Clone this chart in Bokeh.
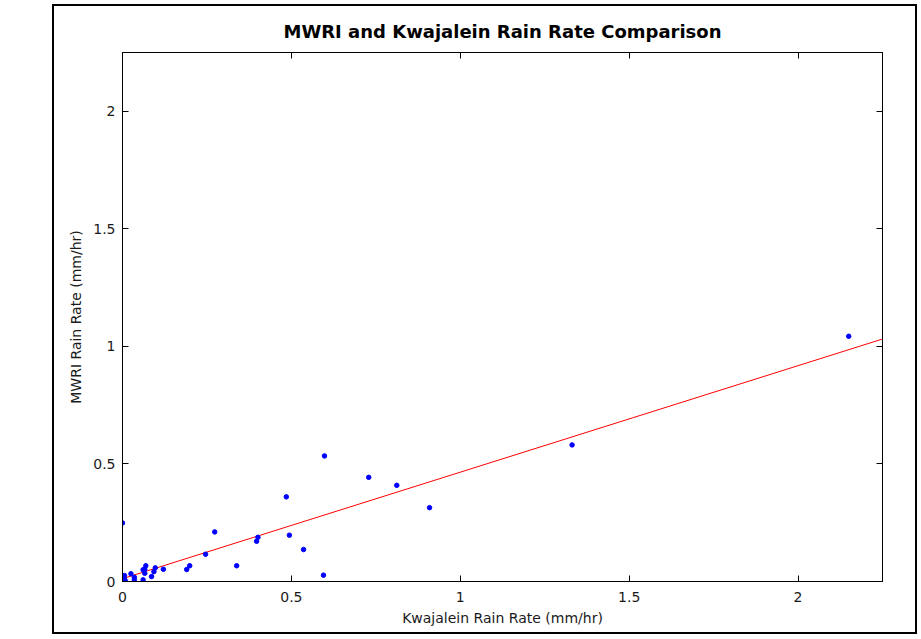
from bokeh.plotting import figure
from bokeh.models import Range1d, LinearAxis, FixedTicker
from bokeh.embed import file_html
from bokeh.resources import INLINE

kwaj = [0.000, 0.598, 0.485, 0.273, 0.494, 0.401, 0.397, 0.536, 0.246, 0.338,
        0.595, 0.199, 0.190, 0.121, 0.097, 0.093, 0.086, 0.069, 0.066, 0.061,
        0.066, 0.061, 0.025, 0.035, 0.035, 0.006, 0.005, 0.000, 0.008, 0.729,
        0.812, 0.909, 1.331, 2.150]
mwri = [0.249, 0.534, 0.360, 0.211, 0.197, 0.188, 0.171, 0.136, 0.116, 0.067,
        0.027, 0.067, 0.051, 0.052, 0.058, 0.042, 0.021, 0.067, 0.052, 0.050,
        0.035, 0.007, 0.033, 0.018, 0.007, 0.025, 0.011, 0.004, 0.004, 0.443,
        0.409, 0.314, 0.581, 1.043]
fit_intercept = 0.012
fit_slope = 0.453
fit_x = [0.0, 2.25]
fit_y = [fit_intercept + fit_slope * v for v in fit_x]
ticks = [0, 0.5, 1, 1.5, 2]
tick_labels = {0: "0", 0.5: "0.5", 1: "1", 1.5: "1.5", 2: "2"}

FONT = "DejaVu Sans"

p = figure(width=865, height=630, output_backend="svg", toolbar_location=None,
           x_range=Range1d(0, 2.25), y_range=Range1d(0, 2.25),
           min_border_left=68, min_border_right=37, min_border_top=46, min_border_bottom=55,
           title="MWRI and Kwajalein Rain Rate Comparison")
p.margin = (4, 0, 0, 52)
p.styles = {"border": "2px solid black"}
p.title.align = "center"
p.title.text_font = FONT
p.title.text_font_size = "18px"
p.title.text_font_style = "bold"
p.title.text_color = "black"
p.title.offset = 0
p.title.standoff = 22
p.grid.visible = False
p.outline_line_color = "black"
p.outline_line_width = 1
p.background_fill_color = "white"
p.border_fill_color = "white"

def style_axis(ax, show_labels=True):
    ax.ticker = FixedTicker(ticks=ticks)
    ax.major_label_overrides = tick_labels
    ax.major_tick_in = 6
    ax.major_tick_out = 0
    ax.minor_tick_line_color = None
    ax.axis_line_color = "black"
    ax.major_tick_line_color = "black"
    ax.major_label_text_font = FONT
    ax.major_label_text_font_size = "14px"
    ax.major_label_text_color = "#1a1a1a" if show_labels else None
    ax.major_label_standoff = 7
    ax.axis_label_text_font = FONT
    ax.axis_label_text_font_size = "14px"
    ax.axis_label_text_font_style = "normal"
    ax.axis_label_text_color = "#1a1a1a"

style_axis(p.xaxis[0])
style_axis(p.yaxis[0])
p.xaxis[0].major_label_standoff = 10
p.xaxis[0].axis_label = "Kwajalein Rain Rate (mm/hr)"
p.xaxis[0].axis_label_standoff = 5
p.yaxis[0].axis_label = "MWRI Rain Rate (mm/hr)"
p.yaxis[0].axis_label_standoff = 6

top = LinearAxis()
right = LinearAxis()
style_axis(top, False)
style_axis(right, False)
top.major_label_text_font_size = "0px"
right.major_label_text_font_size = "0px"
top.major_label_standoff = 0
right.major_label_standoff = 0
p.add_layout(top, "above")
p.add_layout(right, "right")

p.line(fit_x, fit_y, line_color="#ff0000", line_width=1)
p.scatter(kwaj, mwri, marker="circle", size=4.5, fill_color="#0000ff", line_color="#0000ff")

open("out.html", "w").write(file_html(p, INLINE))
